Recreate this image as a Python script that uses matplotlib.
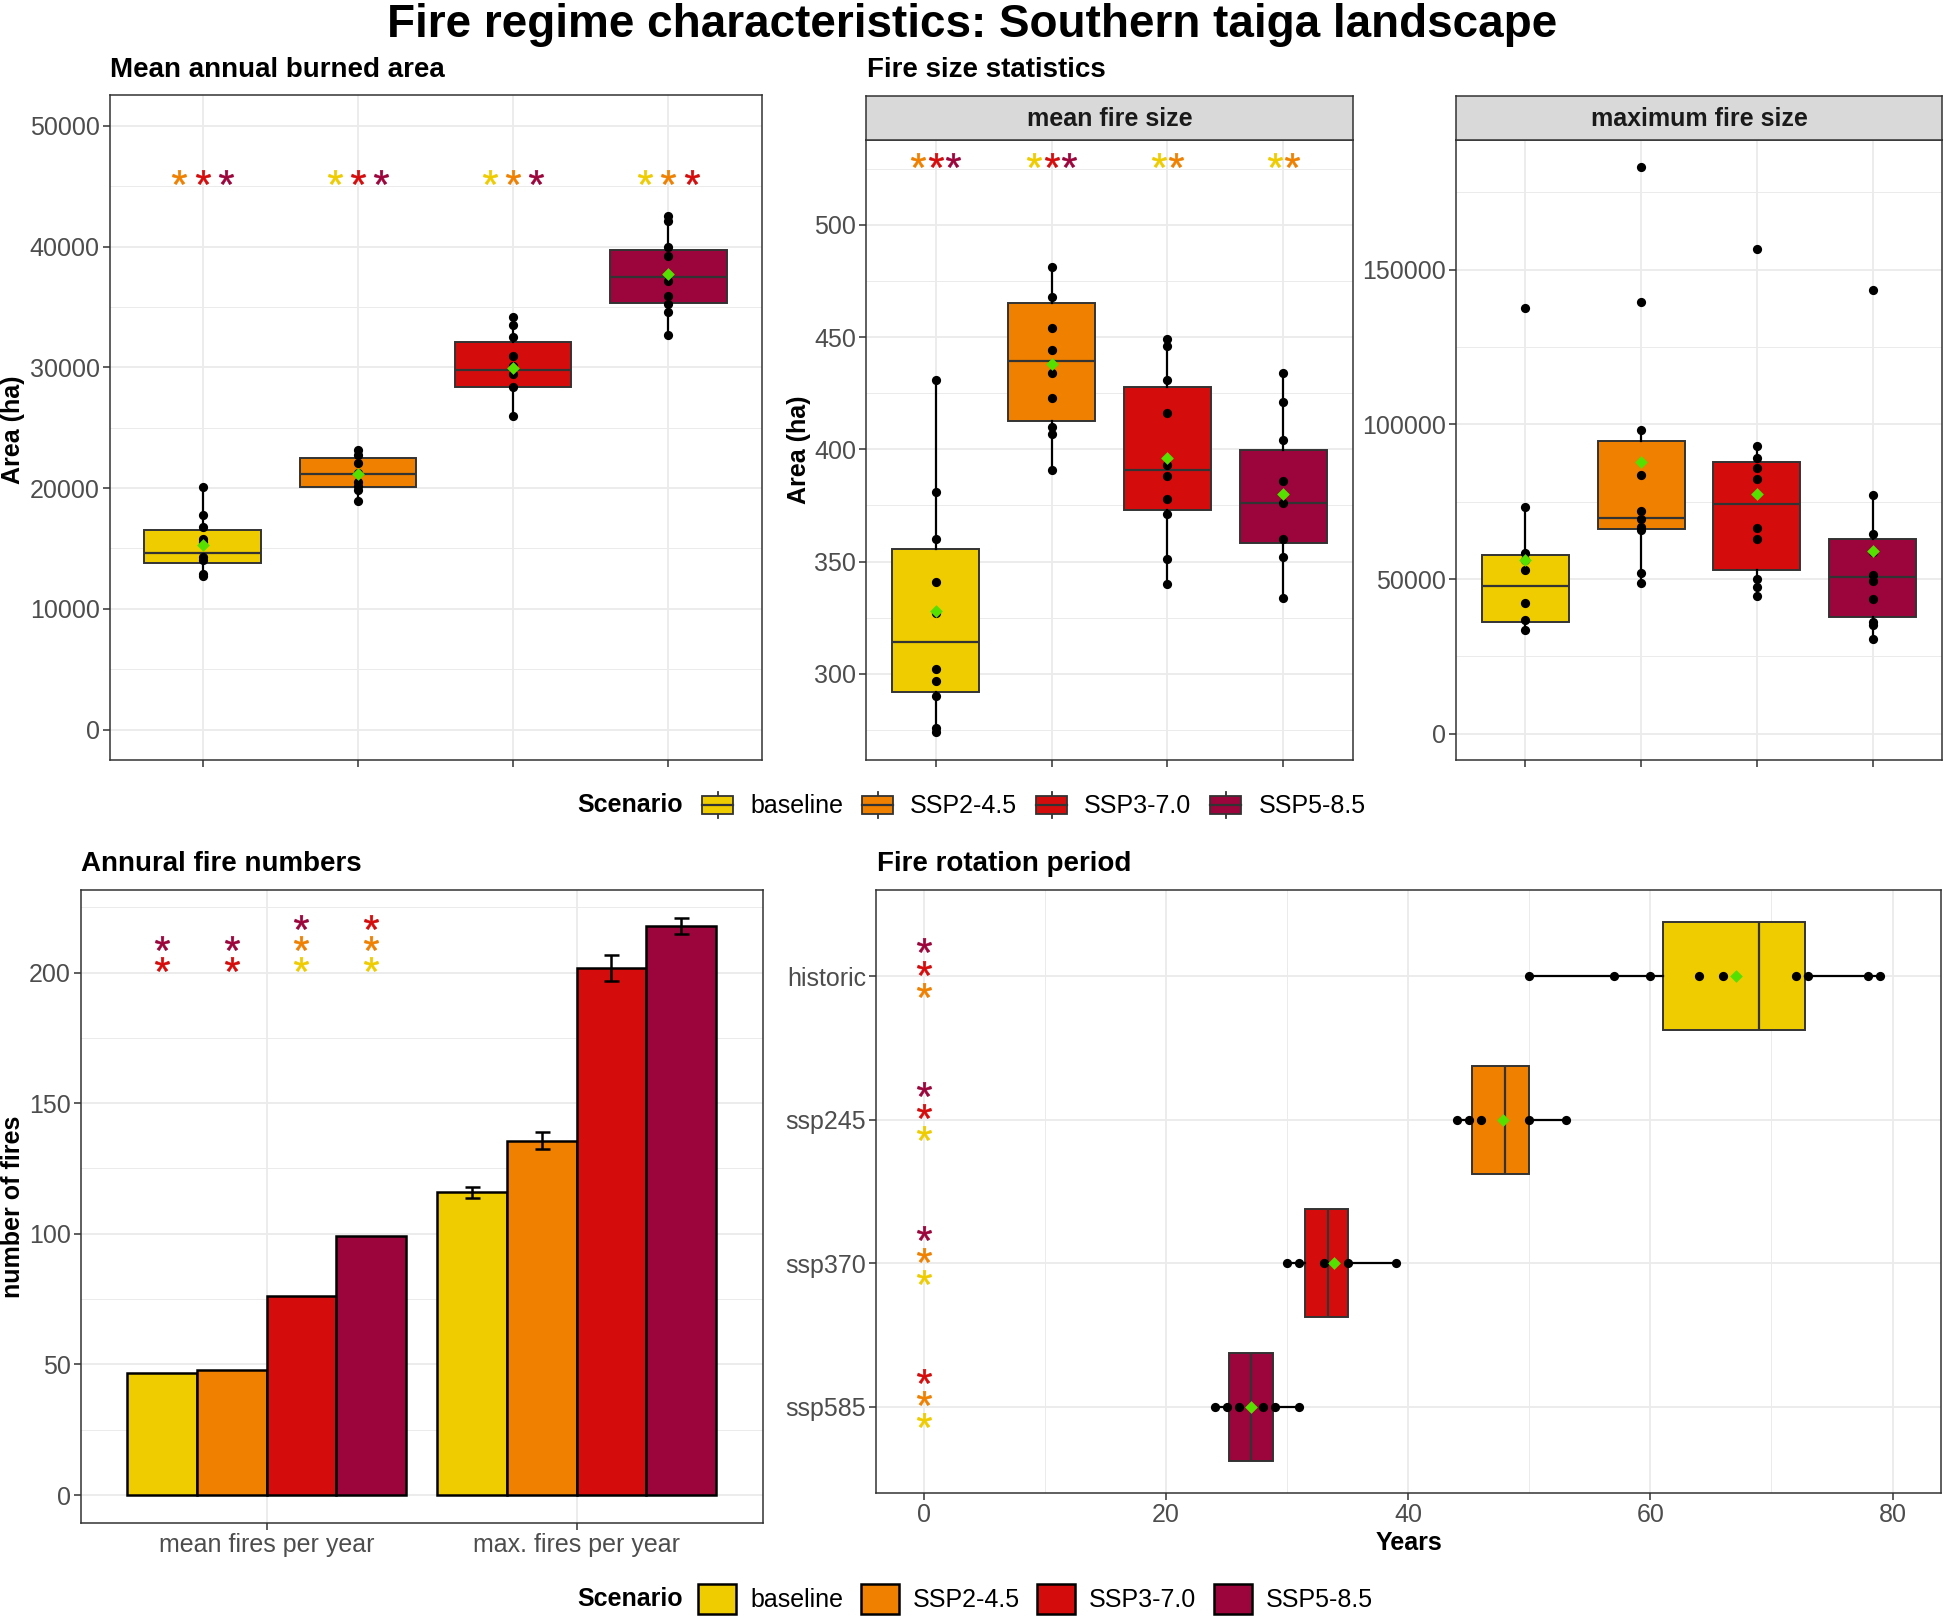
import matplotlib
matplotlib.use("Agg")
import matplotlib.pyplot as plt
import numpy as np
from matplotlib.path import Path
from matplotlib.textpath import TextPath
from matplotlib.font_manager import FontProperties
from matplotlib.patches import Rectangle, Patch
from matplotlib.lines import Line2D
from matplotlib.legend_handler import HandlerBase
from matplotlib.ticker import MultipleLocator

plt.rcParams['font.family'] = ['Liberation Sans', 'DejaVu Sans']

# ---------------- data ----------------
scenarios = ["baseline", "SSP2-4.5", "SSP3-7.0", "SSP5-8.5"]
scenario_colors = ["#EECC00", "#EF8000", "#D50C0C", "#9B053B"]

# Mean annual burned area (ha)
area_lo = [12700, 18890, 26010, 32670]
area_q1 = [13800, 20100, 28370, 35340]
area_med = [14620, 21170, 29740, 37470]
area_q3 = [16560, 22500, 32140, 39720]
area_hi = [20100, 23150, 34200, 42500]
area_mean = [15270, 21170, 29930, 37700]
area_points = [
    [20100, 17750, 16800, 15800, 15500, 14300, 14000, 12900, 12700],
    [23150, 22770, 22090, 21250, 20490, 20180, 19800, 18890],
    [34200, 33510, 32480, 30960, 30080, 29440, 28410, 26010],
    [42500, 42120, 39980, 39220, 37170, 35950, 35260, 34580, 32670],
]
area_sig = [["SSP2-4.5", "SSP3-7.0", "SSP5-8.5"],
            ["baseline", "SSP3-7.0", "SSP5-8.5"],
            ["baseline", "SSP2-4.5", "SSP5-8.5"],
            ["baseline", "SSP2-4.5", "SSP3-7.0"]]
area_sig_y = 45800

# Mean fire size (ha)
size_lo = [273.8, 391.5, 340.3, 334.2]
size_q1 = [292.0, 412.8, 373.1, 358.1]
size_med = [314.1, 439.4, 390.9, 376.1]
size_q3 = [355.7, 465.2, 427.7, 399.9]
size_hi = [431.2, 480.8, 449.4, 434.3]
size_mean = [328, 438, 396, 380]
size_points = [
    [431, 381, 360, 341, 327, 302, 297, 290, 276, 274],
    [481, 468, 454, 444, 434, 423, 410, 407, 391],
    [449, 446, 431, 416, 393, 388, 378, 371, 351, 340],
    [434, 421, 404, 386, 376, 360, 352, 334],
]
size_sig = [["SSP2-4.5", "SSP3-7.0", "SSP5-8.5"],
            ["baseline", "SSP3-7.0", "SSP5-8.5"],
            ["baseline", "SSP2-4.5"],
            ["baseline", "SSP2-4.5"]]
size_sig_y = 529

# Maximum fire size (ha)
max_lo = [33450, 48760, 44450, 30770]
max_q1 = [36270, 66150, 53070, 37760]
max_med = [47870, 69870, 74180, 50540]
max_q3 = [57680, 94550, 87710, 63030]
max_hi = [73440, 98120, 92910, 77150]
max_mean = [56050, 87710, 77600, 59020]
max_points = [
    [137660, 73440, 58270, 56050, 53070, 42220, 36720, 33450],
    [183150, 139440, 98120, 83700, 71950, 69430, 66900, 65710, 51880, 48760],
    [156690, 92910, 89050, 85780, 82210, 66450, 63030, 50100, 47570, 44450],
    [143610, 77150, 64670, 58720, 51290, 49360, 43410, 36270, 35230, 30770],
]

# Annual fire numbers
fire_groups = ["mean fires per year", "max. fires per year"]
fires_mean = [46.8, 48.0, 76.2, 99.1]
fires_max = [115.9, 135.7, 201.6, 217.7]
fires_max_err = [2.1, 3.2, 5.0, 3.1]
fires_sig = [["SSP3-7.0", "SSP5-8.5"],
             ["SSP3-7.0", "SSP5-8.5"],
             ["baseline", "SSP2-4.5", "SSP5-8.5"],
             ["baseline", "SSP2-4.5", "SSP3-7.0"]]   # bottom -> top
fires_sig_y = [203.1, 211.2, 219.3]

# Fire rotation period (years)
rot_labels = ["historic", "ssp245", "ssp370", "ssp585"]
rot_lo = [50.0, 44.0, 30.0, 24.0]
rot_q1 = [61.0, 45.3, 31.5, 25.2]
rot_med = [69.0, 48.0, 33.4, 27.0]
rot_q3 = [72.8, 50.0, 35.0, 28.8]
rot_hi = [79.0, 53.0, 39.0, 31.0]
rot_mean = [67.1, 47.8, 33.9, 27.0]
rot_points = [[50, 57, 60, 64, 66, 72, 73, 78, 79],
              [44, 45, 46, 50, 53],
              [30, 31, 33, 35, 39],
              [24, 25, 26, 28, 29, 31]]
rot_sig = [["SSP5-8.5", "SSP3-7.0", "SSP2-4.5"],
           ["SSP5-8.5", "SSP3-7.0", "baseline"],
           ["SSP5-8.5", "SSP2-4.5", "baseline"],
           ["SSP3-7.0", "SSP2-4.5", "baseline"]]   # top -> bottom

# ---------------- style helpers ----------------
W, H = 1944, 1621
fig = plt.figure(figsize=(W / 100, H / 100), dpi=100)
col = dict(zip(scenarios, scenario_colors))
EDGE = "#333333"
GRID = "#EBEBEB"
TICKC = "#4D4D4D"
MEANC = "#55E000"

# asterisk glyph (Arial-like) as a centred marker path
fp = FontProperties(family="Liberation Sans")
_polys = TextPath((0, 0), "*", size=10, prop=fp).to_polygons()
_allv = np.concatenate(_polys)
_c = (_allv.min(axis=0) + _allv.max(axis=0)) / 2
AST = Path.make_compound_path(*[Path(p - _c, closed=True) for p in _polys])


def add_ax(l, t, r, b):
    return fig.add_axes([l / W, 1 - b / H, (r - l) / W, (b - t) / H])


def style(ax):
    for s in ax.spines.values():
        s.set_color(EDGE)
        s.set_linewidth(1.1)
    ax.set_axisbelow(True)
    ax.tick_params(which="major", length=5, width=1.1, color=EDGE,
                   labelsize=18, labelcolor=TICKC, pad=2)
    ax.tick_params(which="minor", length=0)
    ax.grid(which="major", color=GRID, lw=1.3)
    ax.grid(which="minor", color=GRID, lw=0.7)


def star(ax, x, y, c):
    ax.plot([x], [y], ls="none", marker=AST, ms=10.5, color=c, mew=0.4,
            zorder=5, clip_on=False)


def boxes(ax, pos, lo, q1, med, q3, hi, mean, points, horizontal=False):
    stats = [dict(med=m, q1=a, q3=b, whislo=l, whishi=h, fliers=[])
             for l, a, m, b, h in zip(lo, q1, med, q3, hi)]
    kw = dict(positions=pos, widths=0.75, patch_artist=True, showcaps=False,
              showfliers=False,
              boxprops=dict(edgecolor=EDGE, linewidth=1.4),
              medianprops=dict(color=EDGE, linewidth=1.6),
              whiskerprops=dict(color="black", linewidth=1.6))
    try:
        bp = ax.bxp(stats, orientation="horizontal" if horizontal else "vertical", **kw)
    except TypeError:
        bp = ax.bxp(stats, vert=not horizontal, **kw)
    for patch, c in zip(bp["boxes"], scenario_colors):
        patch.set_facecolor(c)
    for p, pts in zip(pos, points):
        xs = np.full(len(pts), p)
        if horizontal:
            ax.scatter(pts, xs, s=44, color="black", zorder=3, linewidths=0)
        else:
            ax.scatter(xs, pts, s=44, color="black", zorder=3, linewidths=0)
    if horizontal:
        ax.scatter(mean, pos, marker="D", s=42, color=MEANC, zorder=4, linewidths=0)
    else:
        ax.scatter(pos, mean, marker="D", s=42, color=MEANC, zorder=4, linewidths=0)


def box_row_stars(ax, sig, y):
    for i, names in enumerate(sig):
        n = len(names)
        for j, nm in enumerate(names):
            star(ax, i + 1 + (j - (n - 1) / 2) * 0.15, y, col[nm])


# ---------------- titles ----------------
fig.text(972 / W, 1 - 37 / H, "Fire regime characteristics: Southern taiga landscape",
         ha="center", va="baseline", fontsize=33, fontweight="bold")
fig.text(110 / W, 1 - 77 / H, "Mean annual burned area", ha="left", va="baseline",
         fontsize=20, fontweight="bold")
fig.text(867 / W, 1 - 77 / H, "Fire size statistics", ha="left", va="baseline",
         fontsize=20, fontweight="bold")
fig.text(81 / W, 1 - 871 / H, "Annural fire numbers", ha="left", va="baseline",
         fontsize=20, fontweight="bold")
fig.text(877 / W, 1 - 871 / H, "Fire rotation period", ha="left", va="baseline",
         fontsize=20, fontweight="bold")

# ---------------- Panel A ----------------
axA = add_ax(109.5, 95, 761.5, 760)
style(axA)
pos4 = [1, 2, 3, 4]
boxes(axA, pos4, area_lo, area_q1, area_med, area_q3, area_hi, area_mean, area_points)
box_row_stars(axA, area_sig, area_sig_y)
axA.set_xlim(0.4, 4.6)
axA.set_ylim(-2526, 52560)
axA.set_xticks(pos4)
axA.set_xticklabels([])
axA.set_yticks([0, 10000, 20000, 30000, 40000, 50000])
axA.yaxis.set_minor_locator(MultipleLocator(5000))
fig.text(13 / W, 1 - 430 / H, "Area (ha)", rotation=90, ha="center", va="center",
         fontsize=18, fontweight="bold")

# ---------------- Panel B (facets) ----------------
facets = [(866, 1353, "mean fire size"), (1456, 1942, "maximum fire size")]
axB1 = add_ax(866, 140, 1353, 760)
axB2 = add_ax(1456, 140, 1942, 760)
for (l, r, lab) in facets:
    sax = add_ax(l, 96, r, 140)
    sax.set_facecolor("#D9D9D9")
    sax.set_xticks([])
    sax.set_yticks([])
    for s in sax.spines.values():
        s.set_color(EDGE)
        s.set_linewidth(1.1)
    sax.text(0.5, 0.47, lab, transform=sax.transAxes, ha="center", va="center",
             fontsize=18, color="#1A1A1A", fontweight="bold")

style(axB1)
boxes(axB1, pos4, size_lo, size_q1, size_med, size_q3, size_hi, size_mean, size_points)
box_row_stars(axB1, size_sig, size_sig_y)
axB1.set_xlim(0.4, 4.6)
axB1.set_ylim(261.7, 537.7)
axB1.set_xticks(pos4)
axB1.set_xticklabels([])
axB1.set_yticks([300, 350, 400, 450, 500])
axB1.yaxis.set_minor_locator(MultipleLocator(25))
fig.text(799 / W, 1 - 450 / H, "Area (ha)", rotation=90, ha="center", va="center",
         fontsize=18, fontweight="bold")

style(axB2)
boxes(axB2, pos4, max_lo, max_q1, max_med, max_q3, max_hi, max_mean, max_points)
axB2.set_xlim(0.4, 4.6)
axB2.set_ylim(-8500, 191970)
axB2.set_xticks(pos4)
axB2.set_xticklabels([])
axB2.set_yticks([0, 50000, 100000, 150000])
axB2.yaxis.set_minor_locator(MultipleLocator(25000))


# ---------------- legends ----------------
class BoxKey(HandlerBase):
    def create_artists(self, legend, orig_handle, xdescent, ydescent, width, height,
                       fontsize, trans):
        x0, y0 = -xdescent, -ydescent
        fc = orig_handle.get_facecolor()
        bh = height * 0.66
        yb = y0 + (height - bh) / 2
        xc = x0 + width / 2
        w1 = Line2D([xc, xc], [y0, yb], color=EDGE, lw=1.3, transform=trans)
        w2 = Line2D([xc, xc], [yb + bh, y0 + height], color=EDGE, lw=1.3, transform=trans)
        rect = Rectangle((x0, yb), width, bh, facecolor=fc, edgecolor=EDGE, lw=1.3,
                         transform=trans)
        med = Line2D([x0, x0 + width], [yb + bh / 2] * 2, color=EDGE, lw=1.6,
                     transform=trans)
        return [w1, w2, rect, med]


handles1 = [Patch(facecolor=c, edgecolor=EDGE) for c in scenario_colors]
fig.text(577 / W, 1 - 805 / H, "Scenario", ha="left", va="center", fontsize=18,
         fontweight="bold")
fig.legend(handles1, scenarios, loc="center left", bbox_to_anchor=(702 / W, 1 - 805 / H),
           ncol=4, frameon=False, fontsize=18, borderpad=0, borderaxespad=0,
           handlelength=1.24, handleheight=1.28, handletextpad=0.68, columnspacing=0.76,
           handler_map={Patch: BoxKey()})

handles2 = [Patch(facecolor=c, edgecolor="black", linewidth=1.8) for c in scenario_colors]
fig.text(577 / W, 1 - 1599 / H, "Scenario", ha="left", va="center", fontsize=18,
         fontweight="bold")
fig.legend(handles2, scenarios, loc="center left", bbox_to_anchor=(698 / W, 1 - 1599 / H),
           ncol=4, frameon=False, fontsize=18, borderpad=0, borderaxespad=0,
           handlelength=1.52, handleheight=1.44, handletextpad=0.56, columnspacing=0.7)

# ---------------- Panel C ----------------
axC = add_ax(80.6, 890, 762.6, 1523)
style(axC)
bw = 0.225
for i, c in enumerate(scenario_colors):
    off = (i - 1.5) * bw
    axC.bar([1 + off, 2 + off], [fires_mean[i], fires_max[i]], width=bw, color=c,
            edgecolor="black", linewidth=1.8, zorder=2)
    axC.errorbar([2 + off], [fires_max[i]], yerr=[fires_max_err[i]], fmt="none",
                 ecolor="black", elinewidth=1.8, capsize=5.4, capthick=1.8, zorder=3)
    for k, nm in enumerate(fires_sig[i]):
        star(axC, 1 + off, fires_sig_y[k], col[nm])
axC.set_xlim(0.4, 2.6)
axC.set_ylim(-10.7, 231.6)
axC.set_xticks([1, 2])
axC.set_xticklabels(fire_groups)
axC.set_yticks([0, 50, 100, 150, 200])
axC.yaxis.set_minor_locator(MultipleLocator(25))
fig.text(13 / W, 1 - 1207 / H, "number of fires", rotation=90, ha="center", va="center",
         fontsize=18, fontweight="bold")

# ---------------- Panel D ----------------
axD = add_ax(876, 890, 1941, 1493)
style(axD)
rpos = [4, 3, 2, 1]
boxes(axD, rpos, rot_lo, rot_q1, rot_med, rot_q3, rot_hi, rot_mean, rot_points,
      horizontal=True)
rot_off = [0.214, 0.059, -0.095]
for p, names in zip(rpos, rot_sig):
    for k, nm in enumerate(names):
        star(axD, 0, p + rot_off[k], col[nm])
axD.set_xlim(-3.96, 84.0)
axD.set_ylim(0.4, 4.6)
axD.set_yticks(rpos)
axD.set_yticklabels(rot_labels)
axD.set_xticks([0, 20, 40, 60, 80])
axD.xaxis.set_minor_locator(MultipleLocator(10))
axD.set_xlabel("Years", fontsize=18, fontweight="bold", labelpad=3)

fig.savefig("out.png", dpi=100)
